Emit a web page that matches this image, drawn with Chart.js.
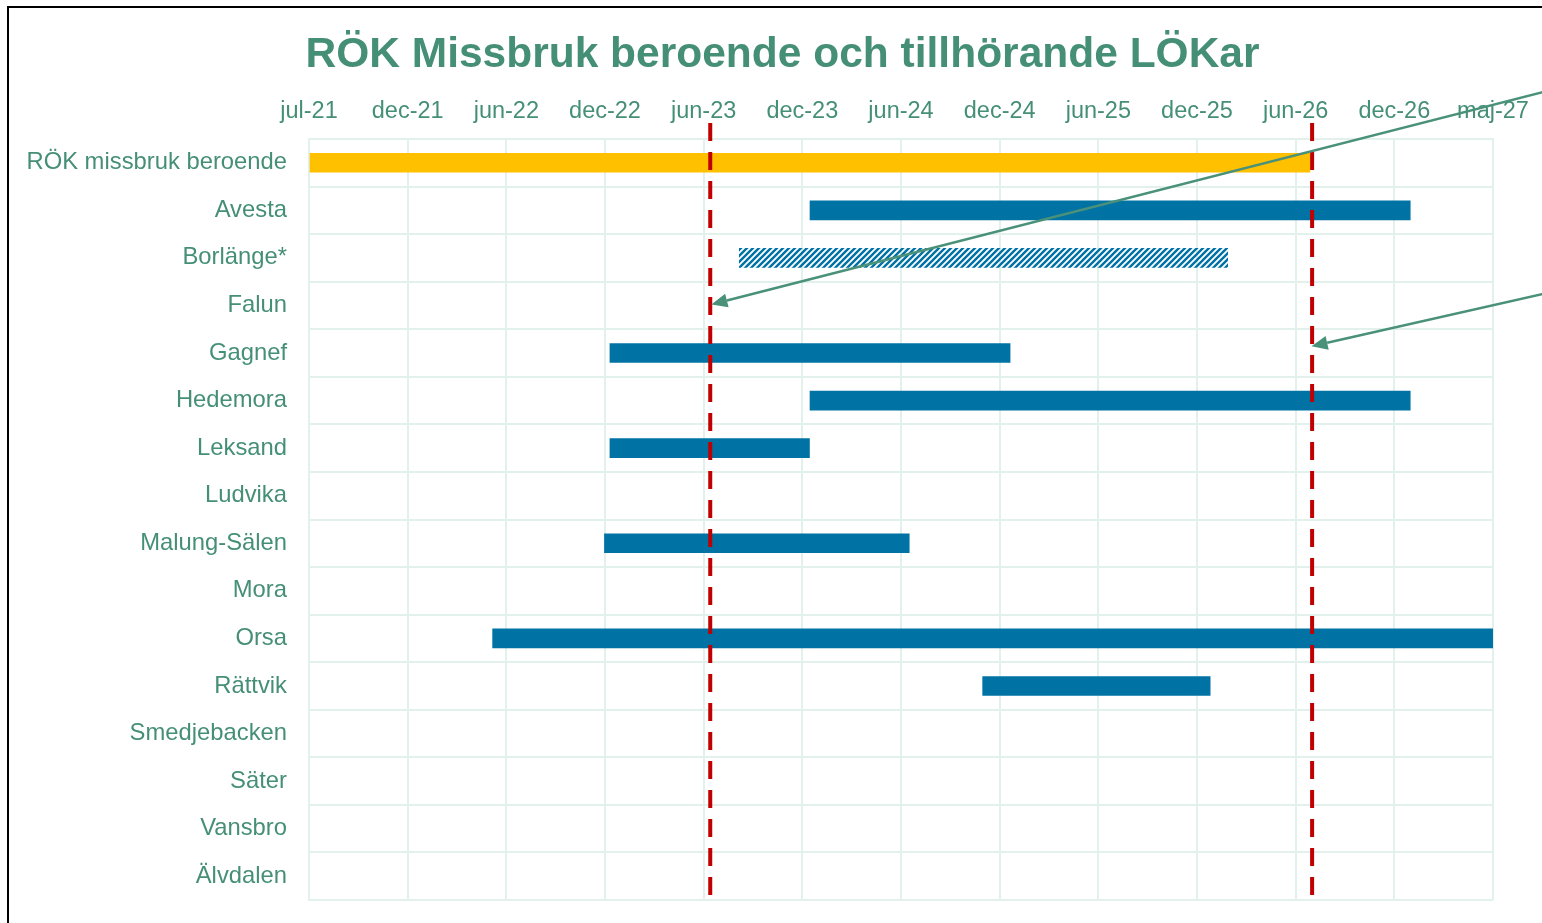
<!DOCTYPE html>
<html lang="sv">
<head>
<meta charset="UTF-8">
<title>RÖK Missbruk beroende och tillhörande LÖKar</title>
<script src="https://cdn.jsdelivr.net/npm/chart.js"></script>
<style>
    body { margin: 0; overflow: hidden; background: #fff; }
    .frame {
        position: absolute; left: 7px; top: 6px;
        width: 1700px; height: 1000px;
        border-left: 2px solid #000; border-top: 2px solid #000;
    }
    canvas { display: block; }
</style>
</head>
<body>
<div class="frame">
    <canvas id="gantt" width="1547" height="915"></canvas>
</div>
<script>
    // data
    const startDate = '2021-07-01';
    const tickLabels = ['jul-21', 'dec-21', 'jun-22', 'dec-22', 'jun-23', 'dec-23', 'jun-24',
                        'dec-24', 'jun-25', 'dec-25', 'jun-26', 'dec-26', 'maj-27'];
    const units = ['RÖK missbruk beroende', 'Avesta', 'Borlänge*', 'Falun', 'Gagnef', 'Hedemora',
                   'Leksand', 'Ludvika', 'Malung-Sälen', 'Mora', 'Orsa', 'Rättvik', 'Smedjebacken',
                   'Säter', 'Vansbro', 'Älvdalen'];
    const periodStart = ['2021-07-01', '2024-01-01', '2023-08-25', null, '2023-01-01', '2024-01-01',
                         '2023-01-01', null, '2022-12-22', null, '2022-06-01', '2024-11-11', null,
                         null, null, null];
    const periodEnd = ['2026-07-01', '2026-12-31', '2026-02-01', null, '2024-12-31', '2026-12-31',
                       '2023-12-31', null, '2024-06-30', null, '2027-05-31', '2025-12-31', null,
                       null, null, null];
    const kind = ['rok', 'lok', 'planned', 'lok', 'lok', 'lok', 'lok', 'lok', 'lok', 'lok', 'lok',
                  'lok', 'lok', 'lok', 'lok', 'lok'];
    const milestones = ['2023-07-03', '2026-07-05'];
    // arrows: [date, row position] of tail and tip
    const arrowTails = [['2027-10-18', -1.63], ['2027-10-18', 2.63]];
    const arrowTips = [['2023-07-05', 2.98], ['2026-07-04', 3.86]];

    const green = '#468f77';
    const gridColor = '#e3f1ed';
    const font = "'Liberation Sans', Arial, sans-serif";

    function days(d) {
        return (Date.parse(d) - Date.parse(startDate)) / 86400000;
    }

    function hatch(color) {
        const c = document.createElement('canvas');
        c.width = 6; c.height = 6;
        const g = c.getContext('2d');
        g.strokeStyle = color;
        g.lineWidth = 2.4;
        g.beginPath();
        g.moveTo(0, 6); g.lineTo(6, 0);
        g.moveTo(-1, 1); g.lineTo(1, -1);
        g.moveTo(5, 7); g.lineTo(7, 5);
        g.stroke();
        return g.createPattern(c, 'repeat');
    }

    const colors = { rok: '#ffc000', lok: '#0072a3', planned: hatch('#0072a3') };

    const barData = units.map((u, i) =>
        periodStart[i] ? [days(periodStart[i]), days(periodEnd[i])] : null);

    const overlay = {
        id: 'overlay',
        afterDatasetsDraw(chart) {
            const ctx = chart.ctx;
            const xs = chart.scales.x, ys = chart.scales.y, area = chart.chartArea;
            ctx.save();
            ctx.strokeStyle = '#c00000';
            ctx.lineWidth = 4;
            ctx.setLineDash([18, 11]);
            milestones.forEach(m => {
                const x = xs.getPixelForValue(days(m));
                ctx.beginPath();
                ctx.moveTo(x, area.top - 16);
                ctx.lineTo(x, area.bottom - 4);
                ctx.stroke();
            });
            ctx.setLineDash([]);
            ctx.strokeStyle = '#4a9179';
            ctx.fillStyle = '#4a9179';
            ctx.lineWidth = 2.5;
            arrowTips.forEach((tip, i) => {
                const tail = arrowTails[i];
                const x1 = xs.getPixelForValue(days(tail[0])), y1 = ys.getPixelForValue(tail[1]);
                const x2 = xs.getPixelForValue(days(tip[0])), y2 = ys.getPixelForValue(tip[1]);
                const a = Math.atan2(y2 - y1, x2 - x1);
                const len = 16, half = 7;
                const bx = x2 - len * Math.cos(a), by = y2 - len * Math.sin(a);
                ctx.beginPath();
                ctx.moveTo(x1, y1);
                ctx.lineTo(bx, by);
                ctx.stroke();
                ctx.beginPath();
                ctx.moveTo(x2, y2);
                ctx.lineTo(bx + half * Math.sin(a), by - half * Math.cos(a));
                ctx.lineTo(bx - half * Math.sin(a), by + half * Math.cos(a));
                ctx.closePath();
                ctx.fill();
            });
            ctx.restore();
        }
    };

    new Chart(document.getElementById('gantt'), {
        type: 'bar',
        data: {
            labels: units,
            datasets: [{
                data: barData,
                backgroundColor: kind.map(k => colors[k]),
                borderWidth: 0,
                borderSkipped: false,
                barThickness: 19
            }]
        },
        options: {
            indexAxis: 'y',
            responsive: false,
            animation: false,
            layout: { padding: { left: 0, right: 0, top: 0, bottom: 23 } },
            plugins: {
                legend: { display: false },
                tooltip: { enabled: false },
                title: {
                    display: true,
                    text: 'RÖK Missbruk beroende och tillhörande LÖKar',
                    color: green,
                    font: { family: font, size: 42.5, weight: 'bold', lineHeight: 1.2 },
                    padding: { top: 22, bottom: 14 }
                }
            },
            scales: {
                x: {
                    type: 'linear',
                    position: 'top',
                    min: 0,
                    max: days('2027-05-31'),
                    afterFit(scale) {
                        scale.height = 44;
                        scale.paddingLeft = 0;
                        scale.paddingRight = 63;
                    },
                    ticks: {
                        stepSize: 180,
                        autoSkip: false,
                        maxRotation: 0,
                        padding: 13,
                        color: green,
                        font: { family: font, size: 23.5 },
                        callback: (v) => tickLabels[Math.round(v / 180)]
                    },
                    grid: { color: gridColor, lineWidth: 2, drawTicks: false },
                    border: { color: gridColor, width: 2 }
                },
                y: {
                    afterFit(scale) {
                        scale.width = 300;
                        scale.paddingTop = 0;
                        scale.paddingBottom = 0;
                    },
                    ticks: {
                        padding: 22,
                        color: green,
                        font: { family: font, size: 23.8 }
                    },
                    grid: { color: gridColor, lineWidth: 2, drawTicks: false },
                    border: { color: gridColor, width: 2 }
                }
            }
        },
        plugins: [overlay]
    });
</script>
</body>
</html>
